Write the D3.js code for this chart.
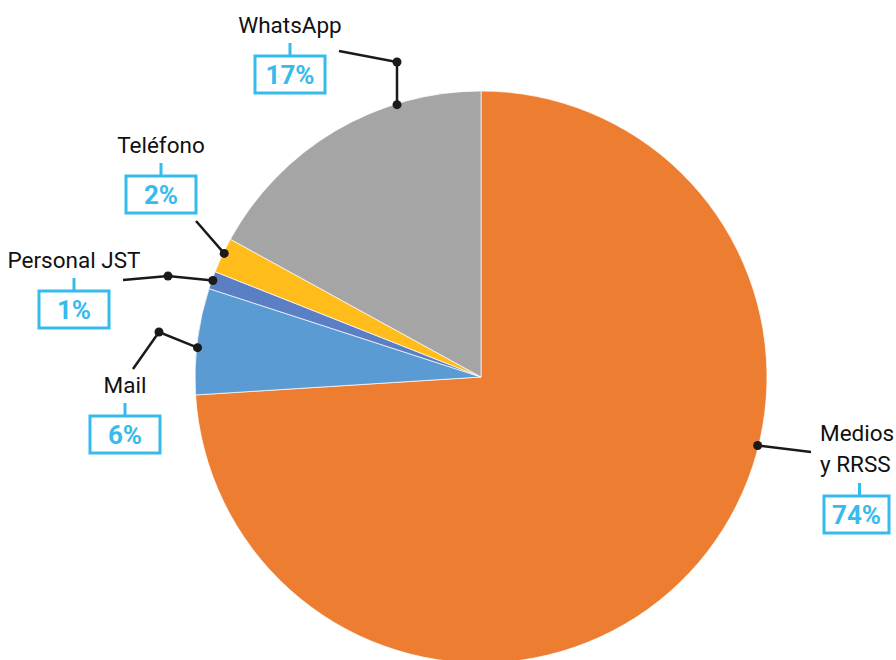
<!DOCTYPE html>
<html>
<head>
<meta charset="utf-8">
<script src="https://cdn.jsdelivr.net/npm/d3@7"></script>
<style>
  html, body { margin: 0; padding: 0; background: #fff; }
  svg { display: block; font-family: Roboto, "Open Sans", sans-serif; }
</style>
</head>
<body>
<svg id="chart" width="896" height="660"></svg>
<script>
// data
const categories = ['Medios y RRSS', 'Mail', 'Personal JST', 'Teléfono', 'WhatsApp'];
const values = [74, 6, 1, 2, 17];
const labelLines = [['Medios', 'y RRSS'], ['Mail'], ['Personal JST'], ['Teléfono'], ['WhatsApp']];
const colors = ['#ED7D31', '#5A9BD3', '#5B7FC4', '#FFBC1B', '#A5A5A5'];

const width = 896;
const height = 660;
const cx = 481;
const cy = 377;
const radius = 286;
const labelBlue = '#37BBED';

// label layout: where the anchor sits inside the slice (0..1), elbow points, text position
const layout = [
    { t: 0.39, path: [[811, 452]], text: [820, 441], anchor: 'start', box: [824, 496, 65] },
    { t: 0.44, path: [[159, 332], [133, 369]], text: [125, 393], anchor: 'middle', box: [90, 416, 70] },
    { t: 0.5, path: [[168, 276], [123, 280]], text: [74, 268], anchor: 'middle', box: [39, 291, 70] },
    { t: 0.57, path: [[196, 221]], text: [161, 153], anchor: 'middle', box: [126, 176, 70] },
    { t: 0.72, path: [[397, 62], [339, 51]], text: [290, 33], anchor: 'middle', box: [255, 56, 70] }
];

const data = categories.map((c, i) => ({ name: c, value: values[i], lines: labelLines[i], color: colors[i], lay: layout[i] }));

const svg = d3.select('#chart');
const g = svg.append('g').attr('transform', `translate(${cx}, ${cy})`);

const pie = d3.pie().sort(null).value(d => d.value);
const arc = d3.arc().innerRadius(0).outerRadius(radius);
const arcs = pie(data);

g.selectAll('path.slice')
    .data(arcs)
    .join('path')
    .attr('class', 'slice')
    .attr('d', arc)
    .attr('fill', d => d.data.color)
    .attr('stroke', 'rgba(255,255,255,0.7)')
    .attr('stroke-width', 1);

// leaders and labels
arcs.forEach(a => {
    const lay = a.data.lay;
    const ang = a.startAngle + (a.endAngle - a.startAngle) * lay.t;
    const r = radius - 1;
    const p0 = [cx + r * Math.sin(ang), cy - r * Math.cos(ang)];
    const pts = [p0, ...lay.path];

    svg.append('path')
        .attr('d', d3.line()(pts))
        .attr('fill', 'none')
        .attr('stroke', '#1a1a1a')
        .attr('stroke-width', 2.5);

    // dots: on the pie edge, and on the first elbow when the line bends
    const dots = lay.path.length > 1 ? [p0, lay.path[0]] : [p0];
    dots.forEach(p => {
        svg.append('circle')
            .attr('cx', p[0]).attr('cy', p[1]).attr('r', 4.5)
            .attr('fill', '#1a1a1a');
    });

    const txt = svg.append('text')
        .attr('x', lay.text[0])
        .attr('y', lay.text[1])
        .attr('text-anchor', lay.anchor)
        .attr('font-size', 22.5)
        .attr('fill', '#111');
    a.data.lines.forEach((l, i) => {
        txt.append('tspan')
            .attr('x', lay.text[0])
            .attr('dy', i === 0 ? 0 : 31)
            .text(l);
    });

    const [bx, by, bw] = lay.box;
    const bh = 37;
    const tickX = lay.anchor === 'start' ? bx + bw / 2 + 3 : bx + bw / 2;
    svg.append('line')
        .attr('x1', tickX).attr('x2', tickX)
        .attr('y1', by - 13).attr('y2', by)
        .attr('stroke', labelBlue)
        .attr('stroke-width', 3);
    svg.append('rect')
        .attr('x', bx).attr('y', by)
        .attr('width', bw).attr('height', bh)
        .attr('fill', '#fff')
        .attr('stroke', labelBlue)
        .attr('stroke-width', 3);
    svg.append('text')
        .attr('x', bx + bw / 2)
        .attr('y', by + bh / 2 + 9)
        .attr('text-anchor', 'middle')
        .attr('font-size', 26)
        .attr('font-weight', 'bold')
        .attr('fill', labelBlue)
        .text(a.data.value + '%');
});
</script>
</body>
</html>
